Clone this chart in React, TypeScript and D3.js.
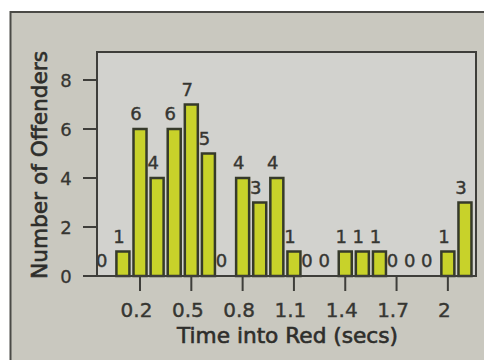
import React from "react";
import * as d3 from "d3";

const binStarts = [0.0, 0.1, 0.2, 0.3, 0.4, 0.5, 0.6, 0.7, 0.8, 0.9, 1.0, 1.1, 1.2, 1.3, 1.4, 1.5, 1.6, 1.7, 1.8, 1.9, 2.0, 2.1];
const counts = [0, 1, 6, 4, 6, 7, 5, 0, 4, 3, 4, 1, 0, 0, 1, 1, 1, 0, 0, 0, 1, 3];
const xTicks = [0.2, 0.5, 0.8, 1.1, 1.4, 1.7, 2.0];
const xTickLabels = ["0.2", "0.5", "0.8", "1.1", "1.4", "1.7", "2"];
const yTicks = [0, 2, 4, 6, 8];
const xTitle = "Time into Red (secs)";
const yTitle = "Number of Offenders";

const W = 484;
const H = 360;
const plot = { left: 97, top: 52, right: 476, bottom: 276 };

export default function App() {
  const x = d3.scaleLinear().domain([-0.0515, 2.1645]).range([plot.left, plot.right]);
  const y = d3.scaleLinear().domain([0, 9.143]).range([plot.bottom, plot.top]);
  const barW = 13;
  const font = "'DejaVu Sans', Verdana, sans-serif";
  const ink = "#363632";

  return (
    <svg width={W} height={H} style={{ position: "absolute", left: 0, top: 0, background: "#ffffff" }}>
      <defs>
        <clipPath id="plotClip">
          <rect x={plot.left + 1} y={plot.top} width={plot.right - plot.left} height={plot.bottom - plot.top} />
        </clipPath>
      </defs>
      {/* outer frame */}
      <rect x={10.5} y={12} width={490} height={360} fill="#c9c8bf" stroke="#4a4a46" strokeWidth={2} />
      {/* plot background */}
      <rect x={plot.left} y={plot.top} width={plot.right - plot.left} height={plot.bottom - plot.top} fill="#d2d2ce" />

      {/* value labels (under bars) */}
      <g clipPath="url(#plotClip)" fontFamily={font} fontSize={18} fill={ink} stroke={ink} strokeWidth={0.4} textAnchor="middle">
        {binStarts.map((b, i) => (
          <text key={"l" + i} x={x(b) - 4} y={y(counts[i]) - 9}>
            {counts[i]}
          </text>
        ))}
      </g>

      {/* bars */}
      <g>
        {binStarts.map((b, i) =>
          counts[i] > 0 ? (
            <rect
              key={"b" + i}
              x={x(b) - barW / 2}
              y={y(counts[i])}
              width={barW}
              height={y(0) - y(counts[i])}
              fill="#c8d22a"
              stroke="#363a2a"
              strokeWidth={2.5}
            />
          ) : null
        )}
      </g>

      {/* plot border */}
      <rect x={plot.left} y={plot.top} width={plot.right - plot.left} height={plot.bottom - plot.top} fill="none" stroke="#3e3e3a" strokeWidth={2} />

      {/* y axis ticks */}
      <g fontFamily={font} fontSize={18} fill={ink} textAnchor="middle">
        {yTicks.map((t) => (
          <g key={"y" + t}>
            <line x1={83} x2={plot.left} y1={y(t)} y2={y(t)} stroke="#3e3e3a" strokeWidth={2} />
            <text x={66} y={y(t) + 6.5} stroke={ink} strokeWidth={0.3}>{t}</text>
          </g>
        ))}
      </g>

      {/* x axis ticks */}
      <g fontFamily={font} fontSize={20} fill={ink} textAnchor="middle">
        {xTicks.map((t, i) => (
          <g key={"x" + t}>
            <line x1={x(t)} x2={x(t)} y1={plot.bottom} y2={plot.bottom + 15} stroke="#3e3e3a" strokeWidth={2} />
            <text x={x(t) - 3.5} y={317} stroke={ink} strokeWidth={0.4}>{xTickLabels[i]}</text>
          </g>
        ))}
      </g>

      {/* titles */}
      <text x={287.5} y={343} fontFamily={font} fontSize={21} fill="#2e2e2b" stroke="#2e2e2b" strokeWidth={0.6} textAnchor="middle" textLength={221} lengthAdjust="spacingAndGlyphs">
        {xTitle}
      </text>
      <text
        transform="translate(47,165) rotate(-90)"
        fontFamily={font}
        fontSize={21}
        fill="#2e2e2b"
        stroke="#2e2e2b"
        strokeWidth={0.6}
        textAnchor="middle"
        textLength={228}
        lengthAdjust="spacingAndGlyphs"
      >
        {yTitle}
      </text>
    </svg>
  );
}
